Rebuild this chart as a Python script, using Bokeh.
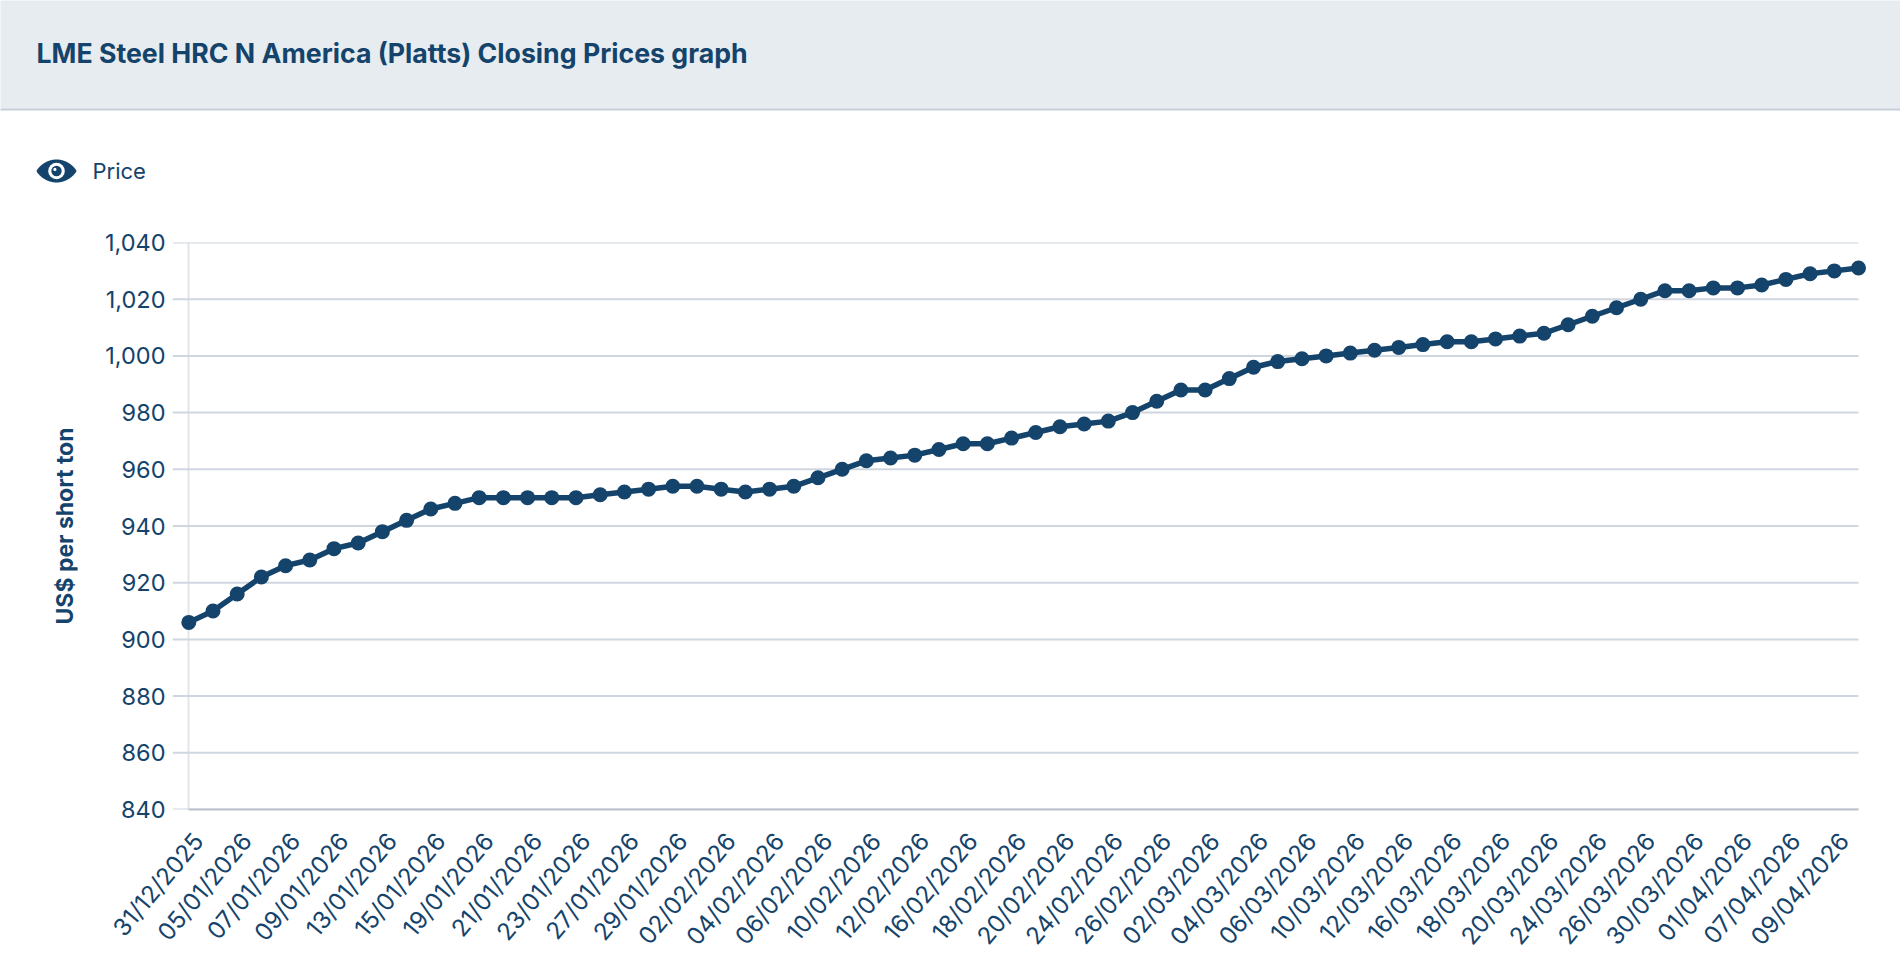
import numpy as np
from bokeh.core.properties import value
from bokeh.embed import file_html
from bokeh.layouts import column
from bokeh.models import FixedTicker, NumeralTickFormatter, Range1d
from bokeh.plotting import figure
from bokeh.resources import INLINE

# ---- data ----
dates = ["31/12/2025", "02/01/2026", "05/01/2026", "06/01/2026", "07/01/2026", "08/01/2026", "09/01/2026",
         "12/01/2026", "13/01/2026", "14/01/2026", "15/01/2026", "16/01/2026", "19/01/2026", "20/01/2026",
         "21/01/2026", "22/01/2026", "23/01/2026", "26/01/2026", "27/01/2026", "28/01/2026", "29/01/2026",
         "30/01/2026", "02/02/2026", "03/02/2026", "04/02/2026", "05/02/2026", "06/02/2026", "09/02/2026",
         "10/02/2026", "11/02/2026", "12/02/2026", "13/02/2026", "16/02/2026", "17/02/2026", "18/02/2026",
         "19/02/2026", "20/02/2026", "23/02/2026", "24/02/2026", "25/02/2026", "26/02/2026", "27/02/2026",
         "02/03/2026", "03/03/2026", "04/03/2026", "05/03/2026", "06/03/2026", "09/03/2026", "10/03/2026",
         "11/03/2026", "12/03/2026", "13/03/2026", "16/03/2026", "17/03/2026", "18/03/2026", "19/03/2026",
         "20/03/2026", "23/03/2026", "24/03/2026", "25/03/2026", "26/03/2026", "27/03/2026", "30/03/2026",
         "31/03/2026", "01/04/2026", "02/04/2026", "07/04/2026", "08/04/2026", "09/04/2026", "10/04/2026"]
prices = [906, 910, 916, 922, 926, 928, 932, 934, 938, 942,
          946, 948, 950, 950, 950, 950, 950, 951, 952, 953,
          954, 954, 953, 952, 953, 954, 957, 960, 963, 964,
          965, 967, 969, 969, 971, 973, 975, 976, 977, 980,
          984, 988, 988, 992, 996, 998, 999, 1000, 1001, 1002,
          1003, 1004, 1005, 1005, 1006, 1007, 1008, 1011, 1014, 1017,
          1020, 1023, 1023, 1024, 1024, 1025, 1027, 1029, 1030, 1031]
y_ticks = [840, 860, 880, 900, 920, 940, 960, 980, 1000, 1020, 1040]
title_text = "LME Steel HRC N America (Platts) Closing Prices graph"
series_name = "Price"
y_title = "US$ per short ton"

# ---- layout / style ----
W, H = 1900, 954
HEAD_H = 200
NAVY = "#14436b"
FONT = "Inter"
X0, X1 = 188.3, 1858.0      # pixel position of first / last point
F_L, F_R = 172, 1870        # frame edges
F_T, F_B = 242 - HEAD_H, 809 - HEAD_H
LABEL_SHIFT = 0.4           # x-label anchor offset, in category steps

# ---- header figure: a full-bleed frame in pixel units ----
head = figure(width=W, height=HEAD_H, output_backend="svg", toolbar_location=None,
              x_range=Range1d(0, W), y_range=Range1d(HEAD_H, 0), min_border=0,
              outline_line_color=None, x_axis_type=None, y_axis_type=None,
              background_fill_color="white", border_fill_color="white")
head.xgrid.visible = False
head.ygrid.visible = False
head.quad(left=[-5], right=[W + 5], top=[-5], bottom=[108], fill_color="#e7ecf0", line_color=None)
head.quad(left=[-5], right=[W + 5], top=[108], bottom=[110], fill_color="#c5ced9", line_color=None)
head.text(x=[36], y=[52], text=[title_text], text_font=value(FONT), text_font_size="26.7px",
          text_font_style="bold", text_color=NAVY, text_baseline="middle")
head.text(x=[92], y=[170], text=[series_name], text_font=value(FONT), text_font_size="22px",
          text_color=NAVY, text_baseline="middle")
cx, cy = 56.0, 170.5
u = np.linspace(-1, 1, 61)
edge = 11.5 * (1 - u ** 2) ** 0.8
head.patch(np.r_[cx + 20 * u, cx + 20 * u[::-1]], np.r_[cy - edge, cy + edge[::-1]], fill_color=NAVY, line_color=None)
head.circle(x=[cx], y=[cy], radius=8.3, fill_color="white", line_color=None)
head.circle(x=[cx], y=[cy], radius=5.2, fill_color=NAVY, line_color=None)
head.circle(x=[cx - 1.6], y=[cy - 1.6], radius=1.6, fill_color="white", line_color=None)

# ---- chart figure ----
idx = list(range(len(dates)))
n = len(dates) - 1
per = (X1 - X0) / n
x_range = Range1d(-(X0 - F_L) / per, n + (F_R - X1) / per)

p = figure(width=W, height=H - HEAD_H, frame_width=F_R - F_L, frame_height=F_B - F_T,
           output_backend="svg", toolbar_location=None,
           x_range=x_range, y_range=Range1d(y_ticks[0] - 0.01, y_ticks[-1] + 0.01),
           min_border_left=F_L, min_border_right=W - F_R, min_border_top=F_T,
           min_border_bottom=H - HEAD_H - F_B,
           outline_line_color=None, background_fill_color="white", border_fill_color="white")

# horizontal rules stop at the last point, so they are drawn from the tick list
p.ygrid.visible = False
p.segment(x0=[x_range.start] * len(y_ticks), x1=[n] * len(y_ticks), y0=y_ticks, y1=y_ticks,
          line_color="#d0d6e0", line_width=2)
xg = p.xgrid[0]
xg.ticker = FixedTicker(ticks=[0])
xg.grid_line_color = "#e3e5ea"
xg.grid_line_width = 2

label_ticks = [i + LABEL_SHIFT for i in idx[::2]]
ax = p.xaxis[0]
ax.ticker = FixedTicker(ticks=label_ticks)
ax.major_label_overrides = {i + LABEL_SHIFT: dates[i] for i in idx[::2]}
ax.major_label_orientation = np.deg2rad(50)
ax.major_label_text_color = NAVY
ax.major_label_text_font = FONT
ax.major_label_text_font_size = "24px"
ax.major_label_standoff = 27
ax.major_tick_out = 0
ax.major_tick_line_color = None
ax.minor_tick_line_color = None
ax.axis_line_color = "#bcc1cb"
ax.axis_line_width = 2
ax.bounds = (0, n)

ay = p.yaxis[0]
ay.ticker = FixedTicker(ticks=y_ticks)
ay.formatter = NumeralTickFormatter(format="0,0")
ay.major_label_text_color = NAVY
ay.major_label_text_font = FONT
ay.major_label_text_font_size = "23.5px"
ay.major_label_standoff = 7
ay.major_tick_out = 0
ay.major_tick_line_color = None
ay.minor_tick_line_color = None
ay.axis_line_color = None
ay.axis_label = y_title
ay.axis_label_text_color = NAVY
ay.axis_label_text_font = FONT
ay.axis_label_text_font_size = "23px"
ay.axis_label_text_font_style = "bold"
ay.axis_label_standoff = 23

p.line(idx, prices, line_color=NAVY, line_width=5.5, line_join="round")
p.scatter(idx, prices, size=15, fill_color=NAVY, line_color=None)

layout = column(column(head, spacing=0), p, spacing=0)
open("out.html", "w").write(file_html(layout, INLINE))
